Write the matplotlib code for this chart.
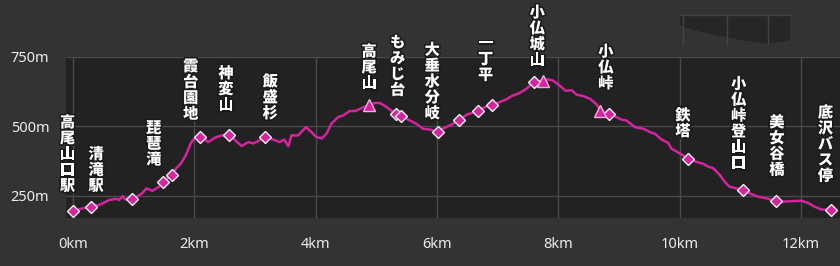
"""高尾山口駅 → 底沢バス停 elevation profile (dark theme)."""

import matplotlib.pyplot as plt
import matplotlib.patheffects as pe
from matplotlib.patches import Polygon

# --- profile (km, m) ---
dist_km = [
    0.00, 0.10, 0.30, 0.43, 0.60, 0.71, 0.76, 0.82, 0.86, 0.96,
    1.07, 1.15, 1.21, 1.31, 1.42, 1.49, 1.63, 1.70, 1.78, 1.86,
    1.94, 2.00, 2.08, 2.12, 2.23, 2.34, 2.45, 2.57, 2.67, 2.78,
    2.89, 2.97, 3.08, 3.18, 3.30, 3.41, 3.48, 3.55, 3.60, 3.71,
    3.84, 3.93, 4.01, 4.10, 4.18, 4.26, 4.37, 4.45, 4.56, 4.65,
    4.73, 4.86, 4.98, 5.06, 5.17, 5.28, 5.36, 5.42, 5.55, 5.66,
    5.77, 5.88, 6.00, 6.13, 6.24, 6.35, 6.49, 6.67, 6.79, 6.91,
    7.03, 7.14, 7.23, 7.36, 7.47, 7.61, 7.75, 7.83, 7.91, 8.02,
    8.12, 8.22, 8.30, 8.41, 8.52, 8.63, 8.71, 8.83, 8.93, 9.04,
    9.12, 9.26, 9.40, 9.51, 9.59, 9.70, 9.81, 9.86, 10.00, 10.14,
    10.28, 10.38, 10.47, 10.55, 10.66, 10.74, 10.82, 10.93, 11.04, 11.15,
    11.29, 11.43, 11.58, 11.70, 11.87, 12.00, 12.11, 12.22, 12.33, 12.49,
]
elev_m = [
    195, 200, 212, 216, 234, 238, 234, 248, 236, 240,
    248, 260, 276, 267, 282, 300, 324, 348, 366, 396,
    438, 456, 461, 461, 443, 459, 467, 470, 450, 429,
    443, 438, 450, 461, 452, 443, 452, 428, 467, 467,
    497, 479, 461, 456, 474, 510, 533, 539, 555, 555,
    563, 575, 584, 584, 569, 551, 542, 536, 521, 509,
    491, 488, 482, 495, 506, 521, 542, 555, 569, 579,
    587, 597, 609, 620, 635, 662, 665, 669, 665, 647,
    628, 630, 614, 609, 599, 579, 551, 545, 536, 524,
    521, 497, 491, 479, 473, 452, 440, 420, 402, 384,
    371, 365, 354, 349, 324, 300, 282, 276, 270, 258,
    246, 240, 231, 228, 230, 231, 224, 210, 200, 198,
]

# waypoints
diamond_km = [0.00, 0.29, 0.97, 1.49, 1.63, 2.10, 2.57, 3.17, 5.32, 5.40,
              6.01, 6.36, 6.67, 6.90, 7.60, 8.83, 10.13, 11.04, 11.58, 12.49]
diamond_m = [194, 210, 237, 299, 324, 462, 468, 462, 546, 537,
             480, 522, 554, 578, 659, 546, 382, 270, 230, 198]
peak_km = [4.87, 7.74, 8.69]
peak_m = [578, 663, 555]

# labels (name, bottom of the vertical label in data coords)
label_names = ["高尾山口駅", "清滝駅", "琵琶滝", "霞台園地", "神変山", "飯盛杉",
               "高尾山", "もみじ台", "大垂水分岐", "一丁平", "小仏城山", "小仏峠",
               "鉄塔", "小仏峠登山口", "美女谷橋", "底沢バス停"]
label_x = [-0.09, 0.38, 1.33, 1.94, 2.52, 3.25, 4.88, 5.35, 5.92, 6.80,
           7.65, 8.78, 10.05, 10.97, 11.60, 12.40]
label_y = [259, 259, 354, 519, 551, 521, 629, 605, 521, 659,
           713, 629, 456, 341, 317, 295]

x_ticks = [0, 2, 4, 6, 8, 10, 12]
y_ticks = [250, 500, 750]

OUTER = "#333333"
INNER = "#222222"
GRID = "#4a4a4a"
PINK = "#d6249f"

CHAR_STEP = 11.4   # pt between stacked characters
CHAR_HALF = 5.0    # pt, half glyph height

fig = plt.figure(figsize=(8.4, 2.66), dpi=100, facecolor=OUTER)
ax = fig.add_axes([66 / 840, 1 - 218 / 266, 774 / 840, 161 / 266])
ax.set_facecolor(INNER)

ax.plot(dist_km, elev_m, color=PINK, lw=1.8, zorder=3, solid_joinstyle="round")
ax.plot(diamond_km, diamond_m, ls="none", marker="D", ms=6.5, mfc=PINK,
        mec="#f0f0f0", mew=1.0, zorder=4)
ax.plot(peak_km, peak_m, ls="none", marker="^", ms=9, mfc=PINK,
        mec="#f3b0de", mew=1.0, zorder=4)

# vertical labels: one character per row, stacked from the bottom up
label_fx = [pe.withStroke(linewidth=2.2, foreground="#1a1a1a")]
for name, lx, ly in zip(label_names, label_x, label_y):
    for i, ch in enumerate(reversed(name)):
        ax.annotate(ch, (lx, ly), xytext=(0, CHAR_HALF + i * CHAR_STEP),
                    textcoords="offset points", ha="center", va="center",
                    fontsize=11, fontweight="black", color="white",
                    family=["Noto Sans CJK JP", "DejaVu Sans"],
                    path_effects=label_fx, zorder=5, annotation_clip=False)

ax.set_xlim(-0.115, 12.64)
ax.set_ylim(169, 750)
ax.set_xticks(x_ticks)
ax.set_xticklabels([f"{t}km" for t in x_ticks])
ax.set_yticks(y_ticks)
ax.set_yticklabels([f"{t}m" for t in y_ticks])
ax.grid(True, color=GRID, lw=1.0, zorder=1)
ax.tick_params(length=0, colors="#ececec", labelsize=10.5)
ax.tick_params(axis="x", pad=14)
ax.tick_params(axis="y", pad=12)
for lab in ax.get_xticklabels() + ax.get_yticklabels():
    lab.set_family(["Noto Sans", "DejaVu Sans"])
for sp in ax.spines.values():
    sp.set_visible(False)

# stray dark strip in the upper right of the original image
strip_px = [(680, 15), (790, 15), (790, 40), (768, 44), (740, 40),
            (705, 33), (683, 27), (680, 25)]
strip = Polygon([(x / 100, (266 - y) / 100) for x, y in strip_px], closed=True,
                transform=fig.dpi_scale_trans, facecolor="#262626",
                edgecolor="none")
fig.patches.append(strip)
for gx in (683, 727, 768):
    fig.add_artist(plt.Line2D([gx / 840] * 2, [1 - 15 / 266, 1 - 44 / 266],
                              color="#444444", lw=1))
fig.add_artist(plt.Line2D([680 / 840, 790 / 840], [1 - 15 / 266] * 2,
                          color="#444444", lw=1))

fig.savefig("out.png", dpi=100, facecolor=OUTER)
